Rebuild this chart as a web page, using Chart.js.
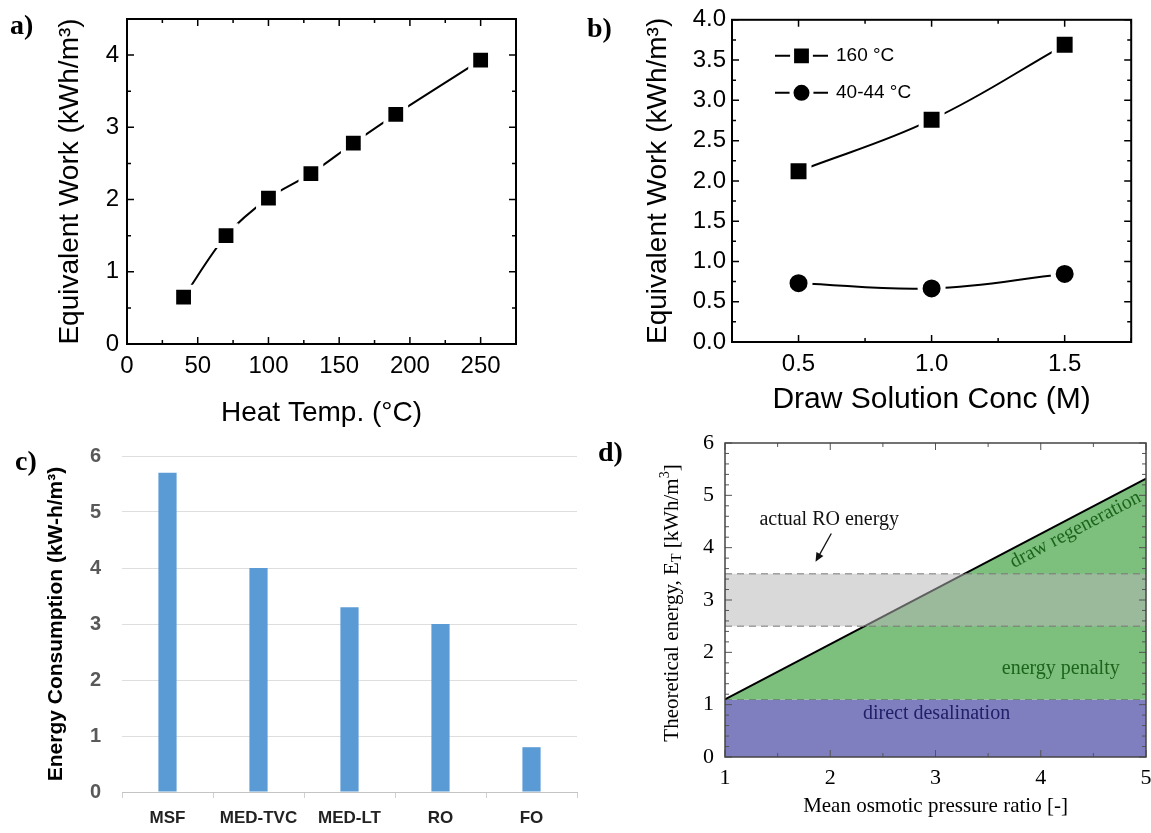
<!DOCTYPE html>
<html>
<head>
<meta charset="utf-8">
<script src="https://cdn.jsdelivr.net/npm/chart.js@4.4.1/dist/chart.umd.min.js"></script>
<style>
  body { margin: 0; background: #fff; }
  #page { position: relative; width: 1151px; height: 833px; overflow: hidden; background: #fff; }
  canvas { position: absolute; }
  .tag { position: absolute; font: bold 28px 'Liberation Serif', serif; line-height: 28px; color: #000; }
</style>
</head>
<body>
<div id="page">
  <canvas id="chartA" width="580" height="440" style="left:0;top:0"></canvas>
  <canvas id="chartB" width="571" height="440" style="left:580px;top:0"></canvas>
  <canvas id="chartC" width="580" height="393" style="left:0;top:440px"></canvas>
  <canvas id="chartD" width="571" height="408" style="left:580px;top:425px"></canvas>
  <div class="tag" style="left:10px;top:11px">a)</div>
  <div class="tag" style="left:587px;top:14px">b)</div>
  <div class="tag" style="left:15px;top:447px">c)</div>
  <div class="tag" style="left:598px;top:438px">d)</div>
</div>
<script>
// a) equivalent work vs heat temperature
var heatTemp = [40, 70, 100, 130, 160, 190, 250];
var workByTemp = [0.65, 1.5, 2.02, 2.36, 2.78, 3.18, 3.93];
var heatTicks = [0, 50, 100, 150, 200, 250];
var workTicksA = [0, 1, 2, 3, 4];

// b) equivalent work vs draw solution concentration
var drawConc = [0.5, 1.0, 1.5];
var work160 = [2.12, 2.76, 3.69];
var work40 = [0.73, 0.665, 0.845];
var concTicks = [0.5, 1.0, 1.5];
var workTicksB = [0, 0.5, 1, 1.5, 2, 2.5, 3, 3.5, 4];

// c) energy consumption per process
var processes = ['MSF', 'MED-TVC', 'MED-LT', 'RO', 'FO'];
var energyUse = [5.7, 4.0, 3.3, 3.0, 0.8];

// d) theoretical energy vs osmotic pressure ratio
var ratioEnds = [1, 5];
var theoryEnergy = [1.1, 5.32];
var directDesal = 1.1;
var roBand = [2.5, 3.5];
var ratioTicks = [1, 2, 3, 4, 5];
var energyTicksD = [0, 1, 2, 3, 4, 5, 6];

var SANS = "'Liberation Sans', Arial, sans-serif";
var SERIF = "'Liberation Serif', 'Times New Roman', serif";

function pts(xs, ys) {
  return xs.map(function(x, i) { return {x: x, y: ys[i]}; });
}
function fixTicks(list) {
  return function(s) { s.ticks = list.map(function(v) { return {value: v}; }); };
}
// fixed axis size, and no extra room for the end labels
function fitX(h) {
  return function(s) { s.height = h; s.paddingLeft = 0; s.paddingRight = 0; };
}
function fitY(w) {
  return function(s) { s.width = w; s.paddingTop = 0; s.paddingBottom = 0; };
}

// inward ticks on all four sides plus a closed frame
var frameTicks = {
  id: 'frameTicks',
  afterDatasetsDraw: function(chart, args, o) {
    var ctx = chart.ctx, a = chart.chartArea;
    ctx.save();
    ctx.strokeStyle = o.color;
    ctx.lineWidth = o.tickWidth;
    ['x', 'y'].forEach(function(id) {
      var s = chart.scales[id];
      var step = o[id + 'Minor'];
      var n = Math.round((s.max - s.min) / step);
      for (var i = 0; i <= n; i++) {
        var v = s.min + i * step;
        var major = s.ticks.some(function(t) { return Math.abs(t.value - v) < step / 10; });
        var len = major ? o.major : o.minor;
        var p = s.getPixelForValue(v);
        ctx.beginPath();
        if (id === 'x') {
          ctx.moveTo(p, a.bottom); ctx.lineTo(p, a.bottom - len);
          ctx.moveTo(p, a.top); ctx.lineTo(p, a.top + len);
        } else {
          ctx.moveTo(a.left, p); ctx.lineTo(a.left + len, p);
          ctx.moveTo(a.right, p); ctx.lineTo(a.right - len, p);
        }
        ctx.stroke();
      }
    });
    ctx.lineWidth = o.frameWidth;
    ctx.strokeStyle = o.frameColor;
    ctx.strokeRect(a.left, a.top, a.right - a.left, a.bottom - a.top);
    ctx.restore();
  }
};

// line-marker-line legend inside panel b
var seriesKey = {
  id: 'seriesKey',
  afterDraw: function(chart, args, o) {
    var ctx = chart.ctx, a = chart.chartArea;
    chart.data.datasets.forEach(function(ds, i) {
      var x0 = a.left + o.left, y = a.top + o.top + i * o.gap;
      ctx.save();
      ctx.strokeStyle = '#000';
      ctx.lineWidth = 2;
      ctx.beginPath();
      ctx.moveTo(x0, y); ctx.lineTo(x0 + o.len, y);
      ctx.stroke();
      ctx.fillStyle = '#000';
      ctx.strokeStyle = '#fff';
      ctx.lineWidth = ds.pointBorderWidth - 1;
      Chart.helpers.drawPoint(ctx, {pointStyle: ds.pointStyle, radius: ds.pointRadius - 1.5, borderWidth: ds.pointBorderWidth - 1, rotation: 0}, x0 + o.len / 2, y);
      ctx.fillStyle = '#000';
      ctx.font = o.size + 'px ' + SANS;
      ctx.textBaseline = 'middle';
      ctx.fillText(ds.label, x0 + o.len + 8, y);
      ctx.restore();
    });
  }
};

// rotated axis title with sub/superscripts
var sideTitle = {
  id: 'sideTitle',
  afterDraw: function(chart, args, o) {
    var ctx = chart.ctx, a = chart.chartArea;
    var big = o.size + 'px ' + o.family, small = Math.round(o.size * 0.68) + 'px ' + o.family;
    ctx.save();
    ctx.translate(o.x, (a.top + a.bottom) / 2 + o.dy);
    ctx.rotate(-Math.PI / 2);
    ctx.fillStyle = '#000';
    ctx.textBaseline = 'middle';
    var total = 0;
    o.parts.forEach(function(p) { ctx.font = p.shift ? small : big; total += ctx.measureText(p.text).width; });
    var x = -total / 2;
    o.parts.forEach(function(p) {
      ctx.font = p.shift ? small : big;
      ctx.fillText(p.text, x, p.shift * o.size);
      x += ctx.measureText(p.text).width;
    });
    ctx.restore();
  }
};

// text notes and arrow in data coordinates
var notes = {
  id: 'notes',
  afterDatasetsDraw: function(chart, args, o) {
    var ctx = chart.ctx, sx = chart.scales.x, sy = chart.scales.y;
    var slope = Math.atan2(sy.getPixelForValue(theoryEnergy[1]) - sy.getPixelForValue(theoryEnergy[0]),
                           sx.getPixelForValue(ratioEnds[1]) - sx.getPixelForValue(ratioEnds[0]));
    o.items.forEach(function(n) {
      ctx.save();
      ctx.translate(sx.getPixelForValue(n.x), sy.getPixelForValue(n.y));
      if (n.alongLine) ctx.rotate(slope);
      ctx.font = o.size + 'px ' + SERIF;
      ctx.fillStyle = n.color;
      ctx.textAlign = 'center';
      ctx.textBaseline = 'middle';
      ctx.fillText(n.text, 0, 0);
      ctx.restore();
    });
    var ar = o.arrow;
    var x1 = sx.getPixelForValue(ar.from[0]), y1 = sy.getPixelForValue(ar.from[1]);
    var x2 = sx.getPixelForValue(ar.to[0]), y2 = sy.getPixelForValue(ar.to[1]);
    var ang = Math.atan2(y2 - y1, x2 - x1);
    ctx.save();
    ctx.strokeStyle = '#111';
    ctx.fillStyle = '#111';
    ctx.lineWidth = 1.3;
    ctx.beginPath();
    ctx.moveTo(x1, y1);
    ctx.lineTo(x2 - 6 * Math.cos(ang), y2 - 6 * Math.sin(ang));
    ctx.stroke();
    ctx.beginPath();
    ctx.moveTo(x2, y2);
    ctx.lineTo(x2 - 9 * Math.cos(ang) + 4 * Math.sin(ang), y2 - 9 * Math.sin(ang) - 4 * Math.cos(ang));
    ctx.lineTo(x2 - 9 * Math.cos(ang) - 4 * Math.sin(ang), y2 - 9 * Math.sin(ang) + 4 * Math.cos(ang));
    ctx.closePath();
    ctx.fill();
    ctx.restore();
  }
};

var quiet = {legend: {display: false}, tooltip: {enabled: false}};

// ---------- a ----------
new Chart(document.getElementById('chartA'), {
  type: 'line',
  data: {
    datasets: [{
      data: pts(heatTemp, workByTemp),
      borderColor: '#000', borderWidth: 2, tension: 0.3,
      pointStyle: 'rect', pointRadius: 14, pointBorderWidth: 5,
      pointBackgroundColor: '#000', pointBorderColor: '#fff'
    }]
  },
  options: {
    responsive: false, animation: false, events: [],
    layout: {padding: {top: 17, right: 64, left: 0, bottom: 0}},
    plugins: Object.assign({
      frameTicks: {color: '#000', tickWidth: 1.5, major: 7, minor: 4, xMinor: 25, yMinor: 0.5, frameColor: '#000', frameWidth: 2}
    }, quiet),
    scales: {
      x: {
        type: 'linear', min: 0, max: 275,
        afterBuildTicks: fixTicks(heatTicks),
        afterFit: fitX(96),
        grid: {display: false, drawTicks: false}, border: {display: false},
        ticks: {padding: 8, color: '#000', autoSkip: false, maxRotation: 0, font: {family: SANS, size: 24}},
        title: {display: true, text: 'Heat Temp. (°C)', color: '#000', font: {family: SANS, size: 28}, padding: {top: 0, bottom: 10}}
      },
      y: {
        min: 0, max: 4.5,
        afterBuildTicks: fixTicks(workTicksA),
        afterFit: fitY(127),
        grid: {display: false, drawTicks: false}, border: {display: false},
        ticks: {padding: 8, color: '#000', autoSkip: false, font: {family: SANS, size: 24}},
        title: {display: true, text: 'Equivalent Work (kWh/m³)', color: '#000', font: {family: SANS, size: 28}, padding: {top: 53, bottom: 0}}
      }
    }
  },
  plugins: [frameTicks]
});

// ---------- b ----------
new Chart(document.getElementById('chartB'), {
  type: 'line',
  data: {
    datasets: [{
      label: '160 °C',
      data: pts(drawConc, work160),
      borderColor: '#000', borderWidth: 2, tension: 0.4,
      pointStyle: 'rect', pointRadius: 14.8, pointBorderWidth: 5,
      pointBackgroundColor: '#000', pointBorderColor: '#fff'
    }, {
      label: '40-44 °C',
      data: pts(drawConc, work40),
      borderColor: '#000', borderWidth: 2, tension: 0.4,
      pointStyle: 'circle', pointRadius: 11.5, pointBorderWidth: 5,
      pointBackgroundColor: '#000', pointBorderColor: '#fff'
    }]
  },
  options: {
    responsive: false, animation: false, events: [],
    layout: {padding: {top: 15, right: 5, left: 0, bottom: 0}},
    plugins: Object.assign({
      frameTicks: {color: '#000', tickWidth: 1.5, major: 7, minor: 4, xMinor: 0.25, yMinor: 0.25, frameColor: '#000', frameWidth: 2},
      seriesKey: {left: 43, top: 36, gap: 37, len: 53, size: 19}
    }, quiet),
    scales: {
      x: {
        type: 'linear', min: 0.25, max: 1.75,
        afterBuildTicks: fixTicks(concTicks),
        afterFit: fitX(98),
        grid: {display: false, drawTicks: false}, border: {display: false},
        ticks: {padding: 8, color: '#000', autoSkip: false, maxRotation: 0, font: {family: SANS, size: 24},
                callback: function(v) { return v.toFixed(1); }},
        title: {display: true, text: 'Draw Solution Conc (M)', color: '#000', font: {family: SANS, size: 30}, padding: {top: 0, bottom: 22}}
      },
      y: {
        min: 0, max: 4,
        afterBuildTicks: fixTicks(workTicksB),
        afterFit: fitY(152),
        grid: {display: false, drawTicks: false}, border: {display: false},
        ticks: {padding: 6, color: '#000', autoSkip: false, font: {family: SANS, size: 24},
                callback: function(v) { return v.toFixed(1); }},
        title: {display: true, text: 'Equivalent Work (kWh/m³)', color: '#000', font: {family: SANS, size: 28}, padding: {top: 61, bottom: 0}}
      }
    }
  },
  plugins: [frameTicks, seriesKey]
});

// ---------- c ----------
new Chart(document.getElementById('chartC'), {
  type: 'bar',
  data: {
    labels: processes,
    datasets: [{data: energyUse, backgroundColor: '#5b9bd5', barPercentage: 0.2, categoryPercentage: 1}]
  },
  options: {
    responsive: false, animation: false, events: [],
    layout: {padding: {top: 16, right: 3, left: 0, bottom: 0}},
    plugins: quiet,
    scales: {
      x: {
        afterFit: fitX(41),
        grid: {drawOnChartArea: false, color: '#d0d0d0', tickLength: 6},
        border: {color: '#c4c4c4'},
        ticks: {padding: 10, color: '#222', autoSkip: false, maxRotation: 0, font: {family: SANS, size: 17, weight: 'bold'}}
      },
      y: {
        min: 0, max: 6,
        afterFit: fitY(122),
        grid: {color: '#dedede', drawTicks: false},
        border: {display: false},
        ticks: {stepSize: 1, padding: 21, color: '#595959', font: {family: SANS, size: 20, weight: 'bold'}},
        title: {display: true, text: 'Energy Consumption (kW-h/m³)', color: '#000', font: {family: SANS, size: 21, weight: 'bold'}, padding: {top: 44, bottom: 0}}
      }
    }
  }
});

// ---------- d ----------
new Chart(document.getElementById('chartD'), {
  type: 'line',
  data: {
    datasets: [{
      label: 'direct desalination',
      data: pts(ratioEnds, [directDesal, directDesal]),
      fill: 'origin', backgroundColor: '#7f7fbf',
      borderColor: '#555', borderWidth: 1, borderDash: [7, 5], pointRadius: 0, order: 5
    }, {
      label: 'theoretical energy',
      data: pts(ratioEnds, theoryEnergy),
      fill: {value: directDesal}, backgroundColor: '#7dbf7d',
      borderColor: '#000', borderWidth: 2, pointRadius: 0, order: 4
    }, {
      label: 'actual RO energy',
      data: pts(ratioEnds, [roBand[1], roBand[1]]),
      fill: {value: roBand[0]}, backgroundColor: 'rgba(182,182,182,0.52)',
      borderColor: '#777', borderWidth: 1, borderDash: [7, 5], pointRadius: 0, order: 2
    }, {
      label: 'actual RO energy low',
      data: pts(ratioEnds, [roBand[0], roBand[0]]),
      fill: false,
      borderColor: '#777', borderWidth: 1, borderDash: [7, 5], pointRadius: 0, order: 1
    }]
  },
  options: {
    responsive: false, animation: false, events: [],
    layout: {padding: {top: 18, right: 5, left: 0, bottom: 0}},
    plugins: Object.assign({
      frameTicks: {color: '#555', tickWidth: 1, major: 7, minor: 4, xMinor: 0.5, yMinor: 0.2, frameColor: '#444', frameWidth: 1.5},
      sideTitle: {x: 92, dy: 3, size: 21, family: SERIF, parts: [
        {text: 'Theoretical energy, E', shift: 0},
        {text: 'T', shift: 0.25},
        {text: ' [kWh/m', shift: 0},
        {text: '3', shift: -0.33},
        {text: ']', shift: 0}
      ]},
      notes: {size: 20, items: [
        {text: 'actual RO energy', x: 1.99, y: 4.53, color: '#111'},
        {text: 'draw regeneration', x: 4.33, y: 4.34, color: '#1c641c', alongLine: true},
        {text: 'energy penalty', x: 4.19, y: 1.69, color: '#1c641c'},
        {text: 'direct desalination', x: 3.01, y: 0.83, color: '#20206a'}
      ], arrow: {from: [2.01, 4.27], to: [1.86, 3.73]}}
    }, quiet),
    scales: {
      x: {
        type: 'linear', min: 1, max: 5,
        afterBuildTicks: fixTicks(ratioTicks),
        afterFit: fitX(76),
        grid: {display: false, drawTicks: false}, border: {display: false},
        ticks: {padding: 8, color: '#000', autoSkip: false, maxRotation: 0, font: {family: SERIF, size: 22}},
        title: {display: true, text: 'Mean osmotic pressure ratio [-]', color: '#000', font: {family: SERIF, size: 21}, padding: {top: 0, bottom: 14}}
      },
      y: {
        min: 0, max: 6,
        afterBuildTicks: fixTicks(energyTicksD),
        afterFit: fitY(145),
        grid: {display: false, drawTicks: false}, border: {display: false},
        ticks: {padding: 11, color: '#000', autoSkip: false, font: {family: SERIF, size: 22}}
      }
    }
  },
  plugins: [frameTicks, sideTitle, notes]
});
</script>
</body>
</html>
